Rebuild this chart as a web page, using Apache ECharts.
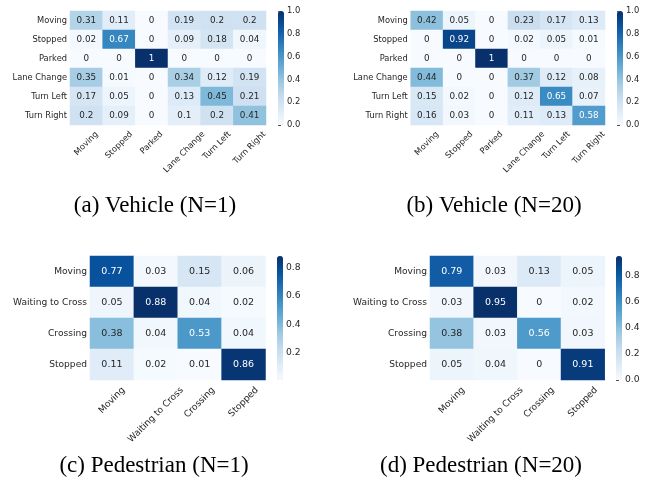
<!DOCTYPE html>
<html><head><meta charset="utf-8">
<script src="https://cdn.jsdelivr.net/npm/echarts@6/dist/echarts.min.js"></script>
<style>html,body{margin:0;padding:0;background:#fff}#c{width:648px;height:487px}</style>
</head><body><div id="c"></div>
<script>
// ---------- data ----------
const vehicleClasses = ['Moving', 'Stopped', 'Parked', 'Lane Change', 'Turn Left', 'Turn Right'];
const pedClasses = ['Moving', 'Waiting to Cross', 'Crossing', 'Stopped'];

const vehN1 = [
  [0.31, 0.11, 0, 0.19, 0.2, 0.2],
  [0.02, 0.67, 0, 0.09, 0.18, 0.04],
  [0, 0, 1, 0, 0, 0],
  [0.35, 0.01, 0, 0.34, 0.12, 0.19],
  [0.17, 0.05, 0, 0.13, 0.45, 0.21],
  [0.2, 0.09, 0, 0.1, 0.2, 0.41]
];
const vehN20 = [
  [0.42, 0.05, 0, 0.23, 0.17, 0.13],
  [0, 0.92, 0, 0.02, 0.05, 0.01],
  [0, 0, 1, 0, 0, 0],
  [0.44, 0, 0, 0.37, 0.12, 0.08],
  [0.15, 0.02, 0, 0.12, 0.65, 0.07],
  [0.16, 0.03, 0, 0.11, 0.13, 0.58]
];
const pedN1 = [
  [0.77, 0.03, 0.15, 0.06],
  [0.05, 0.88, 0.04, 0.02],
  [0.38, 0.04, 0.53, 0.04],
  [0.11, 0.02, 0.01, 0.86]
];
const pedN20 = [
  [0.79, 0.03, 0.13, 0.05],
  [0.03, 0.95, 0, 0.02],
  [0.38, 0.03, 0.56, 0.03],
  [0.05, 0.04, 0, 0.91]
];
const vehTicks = [0, 0.2, 0.4, 0.6, 0.8, 1.0];
const pedN1Ticks = [0.2, 0.4, 0.6, 0.8];
const pedN20Ticks = [0, 0.2, 0.4, 0.6, 0.8];
const captions = ['(a) Vehicle (N=1)', '(b) Vehicle (N=20)', '(c) Pedestrian (N=1)', '(d) Pedestrian (N=20)'];

// ---------- style ----------
const blues = ['#f7fbff', '#deebf7', '#c6dbef', '#9ecae1', '#6baed6', '#4292c6', '#2171b5', '#08519c', '#08306b'];
const TXT = '#262626';
const FONT = 'DejaVu Sans';

const panels = [
  { m: vehN1, cats: vehicleClasses, ticks: vehTicks, g: { left: 70, top: 11, width: 196, height: 114 }, cb: 278, lfs: 8.3, afs: 8.8, cfs: 8.4, pad: 4.5, capX: 155, capTop: 194 },
  { m: vehN20, cats: vehicleClasses, ticks: vehTicks, g: { left: 410.7, top: 11, width: 194.3, height: 114 }, cb: 617, lfs: 8.3, afs: 8.8, cfs: 8.4, pad: 4.5, capX: 494, capTop: 194 },
  { m: pedN1, cats: pedClasses, ticks: pedN1Ticks, g: { left: 90, top: 256, width: 175.5, height: 124 }, cb: 277, lfs: 9.1, afs: 9.5, cfs: 9.2, pad: 5, capX: 154, capTop: 454 },
  { m: pedN20, cats: pedClasses, ticks: pedN20Ticks, g: { left: 430, top: 256, width: 174.7, height: 124 }, cb: 616, lfs: 9.1, afs: 9.5, cfs: 9.2, pad: 5, capX: 481, capTop: 454 }
];

function hex2rgb(h) { return [1, 3, 5].map(i => parseInt(h.substr(i, 2), 16)); }
function bluesAt(t) {
  t = Math.max(0, Math.min(1, t));
  const p = t * (blues.length - 1), i = Math.min(Math.floor(p), blues.length - 2), f = p - i;
  const a = hex2rgb(blues[i]), b = hex2rgb(blues[i + 1]);
  return a.map((v, k) => v + (b[k] - v) * f);
}
function lum(rgb) {
  const c = rgb.map(v => { v /= 255; return v <= 0.03928 ? v / 12.92 : Math.pow((v + 0.055) / 1.055, 2.4); });
  return 0.2126 * c[0] + 0.7152 * c[1] + 0.0722 * c[2];
}
const cv = document.createElement('canvas').getContext('2d');
function textW(s, fs) { cv.font = fs + 'px "' + FONT + '"'; return cv.measureText(s).width; }

const option = { animation: false, grid: [], xAxis: [], yAxis: [], series: [], visualMap: [], title: [] };

panels.forEach((p, k) => {
  const flat = p.m.flat();
  const vmin = Math.min(...flat), vmax = Math.max(...flat);
  const hi = 2 * k, ci = 2 * k + 1;
  // heatmap grid
  option.grid.push(Object.assign({ containLabel: false }, p.g));
  const h = p.lfs * 1.17;
  option.xAxis.push({
    type: 'category', gridIndex: hi,
    // rotated labels: centre the rotated box under each tick (matplotlib style)
    data: p.cats.map(c => {
      const w = textW(c, p.lfs);
      const L = (w + h) / 2;
      const R = (h - w) / 4;
      return { value: c, textStyle: { lineHeight: L, padding: [0, R, 0, 0] } };
    }),
    axisLine: { show: false }, axisTick: { show: false }, splitLine: { show: false },
    axisLabel: { interval: 0, rotate: 45, margin: p.pad, fontSize: p.lfs, fontFamily: FONT, color: TXT, formatter: v => '\n' + v }
  });
  option.yAxis.push({
    type: 'category', gridIndex: hi, inverse: true, data: p.cats,
    axisLine: { show: false }, axisTick: { show: false }, splitLine: { show: false },
    axisLabel: { interval: 0, margin: 3, fontSize: p.lfs, fontFamily: FONT, color: TXT }
  });
  const data = [];
  p.m.forEach((row, r) => row.forEach((v, c) => {
    const t = (v - vmin) / (vmax - vmin);
    data.push({ value: [c, r, v], label: { color: lum(bluesAt(t)) > 0.408 ? TXT : '#ffffff' } });
  }));
  option.series.push({
    type: 'heatmap', xAxisIndex: hi, yAxisIndex: hi, data,
    label: { show: true, fontSize: p.afs, fontFamily: FONT, formatter: q => String(q.value[2]) },
    itemStyle: { borderWidth: 0 }, emphasis: { disabled: true }
  });
  option.visualMap.push({
    type: 'continuous', seriesIndex: k, dimension: 2, min: vmin, max: vmax, calculable: false,
    inRange: { color: blues }, orient: 'vertical', left: p.cb, top: p.g.top,
    itemWidth: 6, itemHeight: p.g.height, padding: 0, hoverLink: false
  });
  // colorbar axis grid
  option.grid.push({ left: p.cb, top: p.g.top, width: 6, height: p.g.height });
  option.xAxis.push({ type: 'value', gridIndex: ci, show: false });
  option.yAxis.push({
    type: 'value', gridIndex: ci, position: 'right', min: vmin, max: vmax,
    axisLine: { show: false }, splitLine: { show: false },
    axisTick: { show: true, length: 3, customValues: p.ticks, lineStyle: { color: TXT, width: 0.8 } },
    axisLabel: { customValues: p.ticks, formatter: v => Number(v).toFixed(1), margin: 3, fontSize: p.cfs, fontFamily: FONT, color: TXT }
  });
  option.title.push({
    text: captions[k], left: p.capX, top: p.capTop, textAlign: 'center', padding: 0,
    textStyle: { fontFamily: 'Liberation Serif', fontWeight: 'normal', fontSize: 23, lineHeight: 23, color: '#000' }
  });
});

const chart = echarts.init(document.getElementById('c'), null, { renderer: 'canvas' });
chart.setOption(option);
</script>
</body></html>
